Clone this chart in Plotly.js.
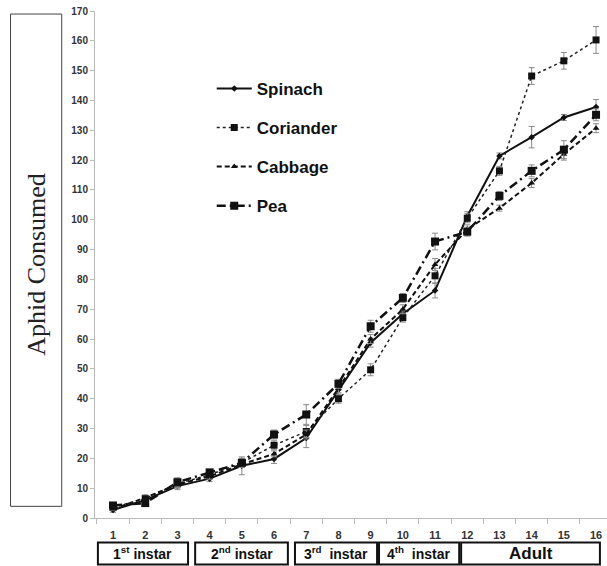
<!DOCTYPE html>
<html>
<head>
<meta charset="utf-8">
<script src="https://cdn.plot.ly/plotly-3.0.1.min.js"></script>
<style>html,body{margin:0;padding:0;background:#fff;}#chart{width:607px;height:566px;}</style>
</head>
<body>
<div id="chart"></div>
<script>
// Day / category labels
const days = [1,2,3,4,5,6,7,8,9,10,11,12,13,14,15,16];
const tickLabels = ["1","2","3","4","5","6","7","8","9","10","11","12","13","14","15","16"];

// Series values (aphids consumed, cumulative)
const spinach   = [2.7, 6.0, 10.7, 13.2, 17.5, 19.8, 26.8, 43.0, 58.8, 68.5, 76.3, 101.2, 121.4, 127.7, 134.3, 137.8];
const spinachErr= [0.8, 1.5, 1.2, 1.0, 3.0, 1.5, 3.2, 1.5, 1.5, 1.5, 2.5, 1.5, 1.0, 3.6, 1.0, 2.5];
const coriander   = [3.5, 6.5, 11.5, 14.5, 18.5, 24.4, 29.0, 40.0, 49.7, 67.2, 81.2, 100.5, 116.4, 148.2, 153.3, 160.3];
const corianderErr= [0.8, 1.0, 1.5, 1.0, 1.5, 1.5, 2.0, 1.5, 2.0, 1.5, 2.5, 1.5, 1.5, 2.8, 2.8, 4.5];
const cabbage   = [3.0, 6.8, 11.2, 14.0, 18.0, 21.5, 28.0, 43.5, 60.0, 70.0, 85.0, 96.8, 103.9, 112.3, 122.0, 130.7];
const cabbageErr= [0.5, 1.0, 1.0, 1.0, 1.0, 1.0, 1.5, 1.5, 1.5, 1.5, 2.0, 1.5, 1.0, 1.5, 2.0, 1.5];
const pea   = [4.2, 5.0, 12.0, 15.3, 18.5, 28.0, 34.7, 45.0, 64.3, 73.8, 92.7, 96.0, 108.0, 116.4, 123.5, 135.2];
const peaErr= [0.8, 1.0, 1.5, 1.0, 1.5, 1.5, 3.3, 1.5, 2.0, 1.5, 2.8, 1.5, 1.5, 2.0, 3.0, 2.0];

// Life stages shown below the axis
const stageNames = ["1<sup>st</sup> instar","2<sup>nd</sup> instar","3<sup>rd</sup>  instar","4<sup>th</sup>  instar","Adult"];
const stageFirstDay = [1, 4, 7, 10, 12];
const stageLastDay  = [3, 6, 9, 11, 16];

// ---- styling / layout below ----
const boxX0 = [0.53, 3.55, 6.65, 9.26, 11.81];
const boxX1 = [3.33, 6.43, 9.20, 11.75, 16.12];

function errObj(a){ return {type:'data', array:a, visible:true, color:'#8a8a8a', thickness:1, width:3}; }

const traces = [
  {name:'Spinach', x:days, y:spinach, error_y:errObj(spinachErr), mode:'lines+markers',
   line:{color:'#111', width:2, dash:'solid'}, marker:{symbol:'diamond', size:5, color:'#111'}, legendgroup:'a'},
  {name:'Coriander', x:days, y:coriander, error_y:errObj(corianderErr), mode:'lines+markers',
   line:{color:'#222', width:1.5, dash:'dot'}, marker:{symbol:'square', size:7, color:'#111'}, legendgroup:'b'},
  {name:'Cabbage', x:days, y:cabbage, error_y:errObj(cabbageErr), mode:'lines+markers',
   line:{color:'#111', width:2, dash:'5px,3px'}, marker:{symbol:'triangle-up', size:6, color:'#111'}, legendgroup:'c'},
  {name:'Pea', x:days, y:pea, error_y:errObj(peaErr), mode:'lines+markers',
   line:{color:'#111', width:2.5, dash:'9px,4px,2px,4px'}, marker:{symbol:'square', size:8, color:'#111'}, legendgroup:'d'}
];

const shapes = [];
const annotations = [];
for (let i = 0; i < stageNames.length; i++) {
  shapes.push({type:'rect', xref:'x', yref:'paper', x0:boxX0[i], x1:boxX1[i], y0:-0.0916, y1:-0.0483,
               line:{color:'#111', width:2}, fillcolor:'rgba(0,0,0,0)'});
  annotations.push({xref:'x', yref:'paper', x:(boxX0[i]+boxX1[i])/2,
                    y:-0.07, text:stageNames[i], showarrow:false, xanchor:'center', yanchor:'middle',
                    font:{family:'Liberation Sans, Arial, sans-serif', size:(i===4?17:14), color:'#111', weight:'bold'}});
}

// y-title box
shapes.push({type:'rect', xref:'paper', yref:'paper', x0:-0.165, x1:-0.065, y0:0.023, y1:0.994,
             line:{color:'#444', width:1}, fillcolor:'rgba(0,0,0,0)'});

const layout = {
  width:607, height:566,
  margin:{l:95, r:0, t:11, b:47.5},
  paper_bgcolor:'#fff', plot_bgcolor:'#fff',
  showlegend:true,
  legend:{x:0.228, y:0.882, xanchor:'left', yanchor:'top', bgcolor:'rgba(0,0,0,0)', borderwidth:0,
          font:{family:'Liberation Sans, Arial, sans-serif', size:17, color:'#111', weight:'bold'},
          tracegroupgap:14, itemwidth:35},
  xaxis:{range:[0.44, 16.34], tickvals:days, ticktext:tickLabels, ticks:'', showgrid:false, zeroline:false,
         showline:true, linecolor:'#bbb', linewidth:1, ticklabelstandoff:7,
         minor:{ticks:'outside', tick0:0.5, dtick:1, ticklen:5, tickcolor:'#bbb', showgrid:false},
         tickfont:{family:'Liberation Sans, Arial, sans-serif', size:11, color:'#333', weight:'bold'}},
  yaxis:{range:[0,170], dtick:10, tick0:0, ticks:'outside', ticklen:4, tickcolor:'#bbb', showgrid:false,
         zeroline:false, showline:true, linecolor:'#bbb', linewidth:1,
         tickfont:{family:'Liberation Sans, Arial, sans-serif', size:10, color:'#333', weight:'bold'},
         title:{text:'Aphid Consumed', standoff:18, font:{family:'Liberation Serif, Times New Roman, serif', size:26, color:'#222'}}},
  shapes:shapes,
  annotations:annotations
};

Plotly.newPlot('chart', traces, layout, {staticPlot:true, displayModeBar:false});
</script>
</body>
</html>
